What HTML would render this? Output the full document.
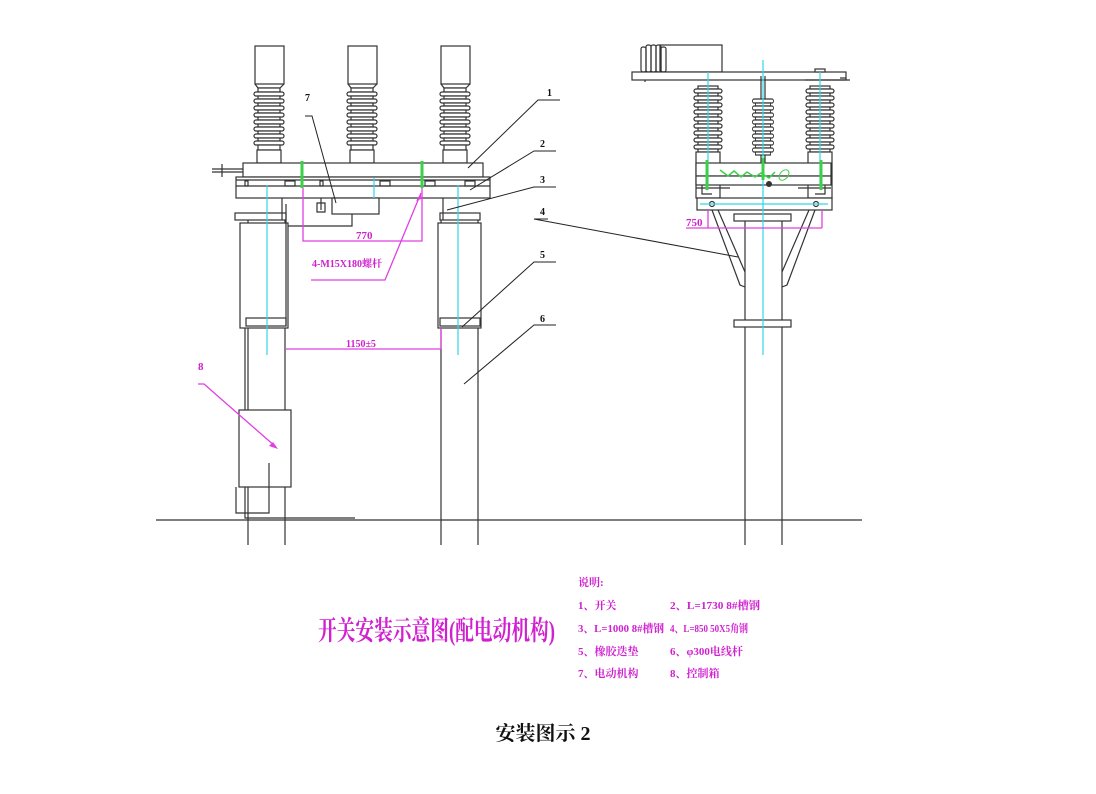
<!DOCTYPE html>
<html><head><meta charset="utf-8"><style>
html,body{margin:0;padding:0;background:#fff;width:1096px;height:794px;overflow:hidden}
svg{display:block}
.k{stroke:#333;fill:none;stroke-width:1.2}
.kf{stroke:#333;fill:#fff;stroke-width:1.2}
.c{stroke:#33d6e6;stroke-width:1.2;fill:none}
.m{stroke:#e040e0;stroke-width:1.3;fill:none}
.g{stroke:#3ccf4a;stroke-width:3;fill:none}
.mt{fill:#d020d0;font-family:"Liberation Serif","Noto Serif CJK SC",serif;font-weight:bold}
.kt{fill:#111;font-family:"Liberation Serif","Noto Serif CJK SC",serif;font-weight:bold}
</style></head><body>
<svg width="1096" height="794" viewBox="0 0 1096 794" xmlns="http://www.w3.org/2000/svg">
<defs>
<g id="ins">
<rect class="kf" x="-14" y="0" width="29" height="38"/>
<path class="k" d="M-14 38 L-11 42 L11 42 L15 38"/>
<g class="kf">
<rect x="-11" y="42" width="22" height="4"/><rect x="-15" y="46" width="30" height="4" rx="2"/>
<rect x="-11" y="50" width="22" height="3"/><rect x="-15" y="53" width="30" height="4" rx="2"/>
<rect x="-11" y="57" width="22" height="3"/><rect x="-15" y="60" width="30" height="4" rx="2"/>
<rect x="-11" y="64" width="22" height="3"/><rect x="-15" y="67" width="30" height="4" rx="2"/>
<rect x="-11" y="71" width="22" height="3"/><rect x="-15" y="74" width="30" height="4" rx="2"/>
<rect x="-11" y="78" width="22" height="3"/><rect x="-15" y="81" width="30" height="4" rx="2"/>
<rect x="-11" y="85" width="22" height="3"/><rect x="-15" y="88" width="30" height="4" rx="2"/>
<rect x="-11" y="92" width="22" height="3"/><rect x="-15" y="95" width="30" height="4" rx="2"/>
<rect x="-11" y="99" width="22" height="5"/>
</g>
<rect class="kf" x="-12" y="104" width="24" height="13"/>
</g>
<g id="rib">
<rect class="kf" x="-14" y="0" width="28" height="4" rx="2"/>
<rect class="kf" x="-10" y="4" width="20" height="3"/>
</g>
</defs>

<!-- ===== LEFT STRUCTURE ===== -->
<use href="#ins" x="269" y="46"/>
<use href="#ins" x="362" y="46"/>
<use href="#ins" x="455" y="46"/>
<path class="k" d="M212 169 H243 M212 172 H243 M222 164 V177"/>
<rect class="kf" x="243" y="163" width="240" height="14"/>
<rect class="kf" x="236" y="177" width="254" height="21"/>
<path class="k" d="M236 180 H490 M236 186 H490"/>
<g class="k"><rect x="245" y="181" width="3" height="5"/><rect x="285" y="181" width="10" height="5"/><rect x="320" y="181" width="3" height="5"/><rect x="380" y="181" width="10" height="5"/><rect x="425" y="181" width="10" height="5"/><rect x="465" y="181" width="10" height="5"/></g>
<rect class="kf" x="332" y="198" width="47" height="16"/>
<path class="k" d="M321 198 V210 M317 203 h8 v9 h-8z"/>
<path class="k" d="M352 214 V226 H245 V518 H355"/>
<path class="k" d="M248 213 V545 M285 213 V545"/>
<rect class="kf" x="240" y="223" width="48" height="105"/>
<rect class="kf" x="235" y="213" width="51" height="7"/>
<rect class="kf" x="246" y="318" width="40" height="8"/>
<path class="k" d="M282 198 V220 M286 204 V326"/>
<path class="k" d="M441 213 V545 M478 213 V545"/>
<rect class="kf" x="438" y="223" width="43" height="105"/>
<rect class="kf" x="440" y="213" width="40" height="7"/>
<rect class="kf" x="440" y="318" width="40" height="8"/>
<path class="k" d="M443 198 V220"/>
<rect class="kf" x="239" y="410" width="52" height="77"/>
<path class="k" d="M269 463 V513 H236 V487"/>
<path class="c" d="M267 185 V355 M458 185 V355"/>
<path class="c" d="M374 178 V198"/>
<path class="g" d="M302 161 V188 M422 161 V188"/>
<path d="M156 520 H862" stroke="#333" stroke-width="1.3"/>

<path class="m" d="M303 188 V241 H422 V188"/>
<text class="mt" x="356" y="239" font-size="11">770</text>
<path class="m" d="M311 280 H385 L421 193"/>
<path d="M421 193 l-5 8 l5 -2z" fill="#e040e0"/>
<text class="mt" x="312" y="267" font-size="10">4-M15X180螺杆</text>
<path class="m" d="M286 349 H441 M441 328 V349"/>
<text class="mt" x="346" y="347" font-size="10">1150±5</text>
<text class="mt" x="198" y="370" font-size="11">8</text>
<path class="m" d="M198 384 H204 L276 447"/>
<path d="M278 449 l-9 -3 l4 -4z" fill="#e040e0"/>

<g stroke="#222" stroke-width="1" fill="none">
<path d="M305 116 H312 L336 203"/>
<path d="M560 100 H538 L468 168"/>
<path d="M556 151 H534 L470 190"/>
<path d="M556 187 H534 L447 210"/>
<path d="M548 219 H534 L738 257"/>
<path d="M556 262 H534 L462 327"/>
<path d="M556 325 H534 L464 384"/>
</g>
<g class="kt" font-size="10">
<text x="305" y="101">7</text>
<text x="547" y="96">1</text>
<text x="540" y="147">2</text>
<text x="540" y="183">3</text>
<text x="540" y="215">4</text>
<text x="540" y="258">5</text>
<text x="540" y="322">6</text>
</g>

<!-- ===== RIGHT STRUCTURE ===== -->
<rect class="kf" x="660" y="45" width="62" height="27"/>
<g class="k"><rect x="641" y="47" width="5" height="25" rx="2"/><rect x="646" y="45" width="5" height="27" rx="2"/><rect x="651" y="45" width="5" height="27" rx="2"/><rect x="656" y="45" width="5" height="27" rx="2"/><rect x="661" y="47" width="5" height="25" rx="2"/></g>
<rect class="kf" x="632" y="72" width="214" height="8"/>
<path class="k" d="M645 80 V82 M805 80 H850 M840 78 H846"/>
<rect class="kf" x="815" y="69" width="10" height="3"/>
<g transform="translate(708,86)">
<rect class="kf" x="-10" y="0" width="20" height="3"/>
<use href="#rib" y="3"/><use href="#rib" y="10"/><use href="#rib" y="17"/><use href="#rib" y="24"/><use href="#rib" y="31"/><use href="#rib" y="38"/><use href="#rib" y="45"/><use href="#rib" y="52"/><use href="#rib" y="59"/>
<rect class="kf" x="-12" y="66" width="24" height="46"/>
</g>
<g transform="translate(820,86)">
<rect class="kf" x="-10" y="0" width="20" height="3"/>
<use href="#rib" y="3"/><use href="#rib" y="10"/><use href="#rib" y="17"/><use href="#rib" y="24"/><use href="#rib" y="31"/><use href="#rib" y="38"/><use href="#rib" y="45"/><use href="#rib" y="52"/><use href="#rib" y="59"/>
<rect class="kf" x="-12" y="66" width="24" height="46"/>
</g>
<g transform="translate(763,99) scale(0.75,1)">
<use href="#rib" y="0"/><use href="#rib" y="7"/><use href="#rib" y="14"/><use href="#rib" y="21"/><use href="#rib" y="28"/><use href="#rib" y="35"/><use href="#rib" y="42"/><use href="#rib" y="49"/>
</g>
<path class="k" d="M761 76 V99 M765 76 V99 M761 155 V170 M765 155 V170"/>
<rect class="kf" x="696" y="163" width="135" height="13"/>
<rect class="kf" x="696" y="176" width="135" height="9"/>
<path class="k" d="M702 185 V194 H712 M825 185 V194 H815 M696 188 H730 M798 188 H831"/>
<path d="M720 170 l8 6 l6-5 l7 6 l6-5 l8 5 l6-4 l8 5 l6-6" stroke="#3ccf4a" stroke-width="1.5" fill="none"/>
<ellipse cx="784" cy="175" rx="4" ry="6" stroke="#3ccf4a" fill="none" transform="rotate(40 784 175)"/>
<circle cx="769" cy="184" r="3" fill="#333"/>
<rect class="kf" x="697" y="198" width="135" height="12"/>
<circle class="k" cx="712" cy="204" r="2.5"/><circle class="k" cx="816" cy="204" r="2.5"/>
<rect class="kf" x="734" y="214" width="57" height="7"/>
<path class="k" d="M745 221 V545 M782 221 V545"/>
<path class="k" d="M712 210 L740 285 L745 287 M718 210 L745 272 M815 210 L787 285 L782 287 M809 210 L782 272"/>
<rect class="kf" x="734" y="320" width="57" height="7"/>
<path class="c" d="M763 60 V355 M708 72 V185 M820 72 V185 M700 204 H828"/>
<path class="g" d="M707 160 V190 M821 160 V190 M763 158 V180"/>
<path class="m" d="M686 228 H822 M708 210 V228 M822 210 V228"/>
<text class="mt" x="686" y="226" font-size="11">750</text>

<!-- ===== TEXT ===== -->
<text class="mt" x="318" y="640" font-size="27" font-weight="normal" textLength="237" lengthAdjust="spacingAndGlyphs">开关安装示意图(配电动机构)</text>
<g class="mt" font-size="11">
<text x="578" y="586">说明:</text>
<text x="578" y="609">1、开关</text><text x="670" y="609" textLength="90" lengthAdjust="spacingAndGlyphs">2、L=1730 8#槽钢</text>
<text x="578" y="632" textLength="86" lengthAdjust="spacingAndGlyphs">3、L=1000 8#槽钢</text><text x="670" y="632" textLength="78" lengthAdjust="spacingAndGlyphs">4、L=850 50X5角钢</text>
<text x="578" y="655">5、橡胶迭垫</text><text x="670" y="655">6、φ300电线杆</text>
<text x="578" y="677">7、电动机构</text><text x="670" y="677">8、控制箱</text>
</g>
<text class="kt" x="543" y="740" font-size="20" text-anchor="middle">安装图示 2</text>
</svg>
</body></html>
